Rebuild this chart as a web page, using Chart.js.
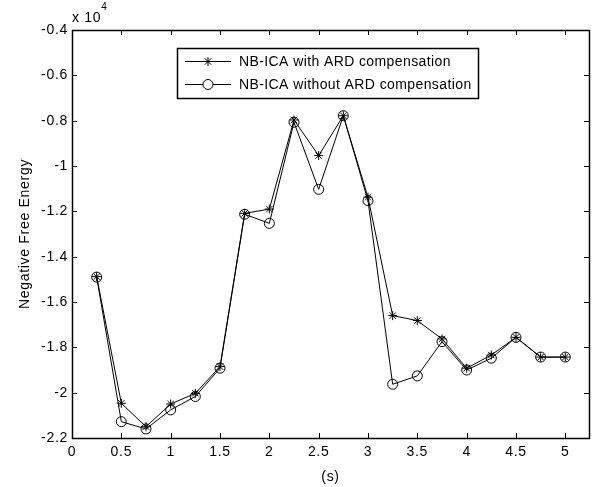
<!DOCTYPE html>
<html>
<head>
<meta charset="utf-8">
<script src="https://cdn.jsdelivr.net/npm/chart.js@4.4.1/dist/chart.umd.min.js"></script>
<style>
  html, body { margin: 0; padding: 0; background: #fff; }
  #wrap { width: 598px; height: 487px; position: relative; }
</style>
</head>
<body>
<div id="wrap"><canvas id="c" width="598" height="487"></canvas></div>
<script>
// Data (values in units of 10^4)
const xValues = [0.25, 0.5, 0.75, 1.0, 1.25, 1.5, 1.75, 2.0, 2.25, 2.5, 2.75, 3.0, 3.25, 3.5, 3.75, 4.0, 4.25, 4.5, 4.75, 5.0];
const withARD = [-1.488, -2.047, -2.150, -2.050, -2.003, -1.885, -1.209, -1.190, -0.797, -0.954, -0.778, -1.138, -1.660, -1.682, -1.763, -1.892, -1.834, -1.756, -1.843, -1.843];
const withoutARD = [-1.490, -2.128, -2.160, -2.076, -2.017, -1.892, -1.213, -1.253, -0.807, -1.103, -0.778, -1.153, -1.963, -1.926, -1.775, -1.900, -1.848, -1.756, -1.843, -1.843];
const seriesLabels = ['NB-ICA with ARD compensation', 'NB-ICA without ARD compensation'];
const xTitle = '(s)';
const yTitle = 'Negative Free Energy';
const exponentText = 'x 10';
const exponentPower = '4';

const FONT = "'Liberation Sans', Arial, sans-serif";

function toPoints(xs, ys) { return xs.map((x, i) => ({ x: x, y: ys[i] })); }

const fmt = v => { const n = Number(v.toFixed(2)); return (Object.is(n, -0) ? 0 : n).toString(); };

const spacingPlugin = {
  id: 'spacingPlugin',
  beforeDraw(chart) { chart.ctx.letterSpacing = '0.7px'; }
};

const boxPlugin = {
  id: 'boxPlugin',
  afterDatasetsDraw(chart) {
    const ctx = chart.ctx, a = chart.chartArea;
    const xs = chart.scales.x, ys = chart.scales.y;
    ctx.save();
    ctx.strokeStyle = '#000';
    ctx.lineWidth = 1;
    const tl = 5;
    ctx.beginPath();
    xs.ticks.forEach(t => {
      const px = Math.round(xs.getPixelForValue(t.value)) + 0.5;
      ctx.moveTo(px, a.bottom); ctx.lineTo(px, a.bottom - tl);
      ctx.moveTo(px, a.top); ctx.lineTo(px, a.top + tl);
    });
    ys.ticks.forEach(t => {
      const py = Math.round(ys.getPixelForValue(t.value)) + 0.5;
      ctx.moveTo(a.left, py); ctx.lineTo(a.left + tl, py);
      ctx.moveTo(a.right, py); ctx.lineTo(a.right - tl, py);
    });
    ctx.stroke();
    ctx.lineWidth = 1.5;
    ctx.strokeRect(Math.round(a.left) + 0.5, Math.round(a.top) + 0.5, Math.round(a.right - a.left), Math.round(a.bottom - a.top));

    // exponent label
    ctx.fillStyle = '#000';
    ctx.textBaseline = 'alphabetic';
    ctx.textAlign = 'left';
    ctx.font = '14px ' + FONT;
    ctx.fillText(exponentText, a.left, a.top - 8);
    const w = ctx.measureText(exponentText).width;
    ctx.font = '10px ' + FONT;
    ctx.fillText(exponentPower, a.left + w, a.top - 20);

    // legend
    const lx = 177, ly = 48, lw = 301, lh = 50;
    ctx.fillStyle = '#fff';
    ctx.fillRect(lx, ly, lw, lh);
    ctx.lineWidth = 1.5;
    ctx.strokeStyle = '#000';
    ctx.strokeRect(lx + 0.5, ly + 0.5, lw, lh);
    ctx.lineWidth = 1;
    ctx.letterSpacing = '0.4px';
    ctx.font = '14px ' + FONT;
    ctx.textBaseline = 'middle';
    chart.data.datasets.forEach((ds, i) => {
      const y = ly + 13.5 + i * 23;
      ctx.strokeStyle = '#000';
      ctx.beginPath();
      ctx.moveTo(lx + 8, y); ctx.lineTo(lx + 54, y);
      ctx.stroke();
      ctx.fillStyle = '#fff';
      Chart.helpers.drawPoint(ctx, {
        pointStyle: ds.pointStyle, radius: ds.pointRadius, borderWidth: 1
      }, lx + 31, y);
      ctx.fillStyle = '#000';
      ctx.fillText(ds.label, lx + 62, y + 1);
    });
    ctx.restore();
  }
};

new Chart(document.getElementById('c'), {
  type: 'line',
  data: {
    datasets: [
      {
        label: seriesLabels[0],
        data: toPoints(xValues, withARD),
        borderColor: '#000', borderWidth: 1,
        pointStyle: 'star', pointRadius: 4.5,
        pointBorderColor: '#000', pointBackgroundColor: 'rgba(0,0,0,0)', pointBorderWidth: 1,
        fill: false, tension: 0
      },
      {
        label: seriesLabels[1],
        data: toPoints(xValues, withoutARD),
        borderColor: '#000', borderWidth: 1,
        pointStyle: 'circle', pointRadius: 5,
        pointBorderColor: '#000', pointBackgroundColor: 'rgba(0,0,0,0)', pointBorderWidth: 1,
        fill: false, tension: 0
      }
    ]
  },
  options: {
    responsive: false,
    animation: false,
    devicePixelRatio: 1,
    layout: { padding: { top: 30, right: 9, left: 0, bottom: 0 } },
    plugins: { legend: { display: false }, tooltip: { enabled: false } },
    elements: { line: { borderCapStyle: 'butt' } },
    scales: {
      x: {
        type: 'linear', min: 0, max: 5.24,
        grid: { display: false, drawTicks: false }, border: { display: false },
        ticks: { stepSize: 0.5, includeBounds: false, color: '#000', font: { family: FONT, size: 14 }, padding: 6, maxRotation: 0, autoSkip: false, callback: v => fmt(v) },
        title: { display: true, text: xTitle, color: '#000', font: { family: FONT, size: 14 }, padding: { top: 0, bottom: 1 } },
        afterFit(s) { s.height = 49; }
      },
      y: {
        type: 'linear', min: -2.2, max: -0.4,
        grid: { display: false, drawTicks: false }, border: { display: false },
        ticks: { stepSize: 0.2, includeBounds: false, color: '#000', font: { family: FONT, size: 14 }, padding: 4, autoSkip: false, callback: v => fmt(v) },
        title: { display: true, text: yTitle, color: '#000', font: { family: FONT, size: 14 }, padding: { top: 17, bottom: 0 } },
        afterFit(s) { s.width = 72; }
      }
    }
  },
  plugins: [spacingPlugin, boxPlugin]
});
</script>
</body>
</html>
